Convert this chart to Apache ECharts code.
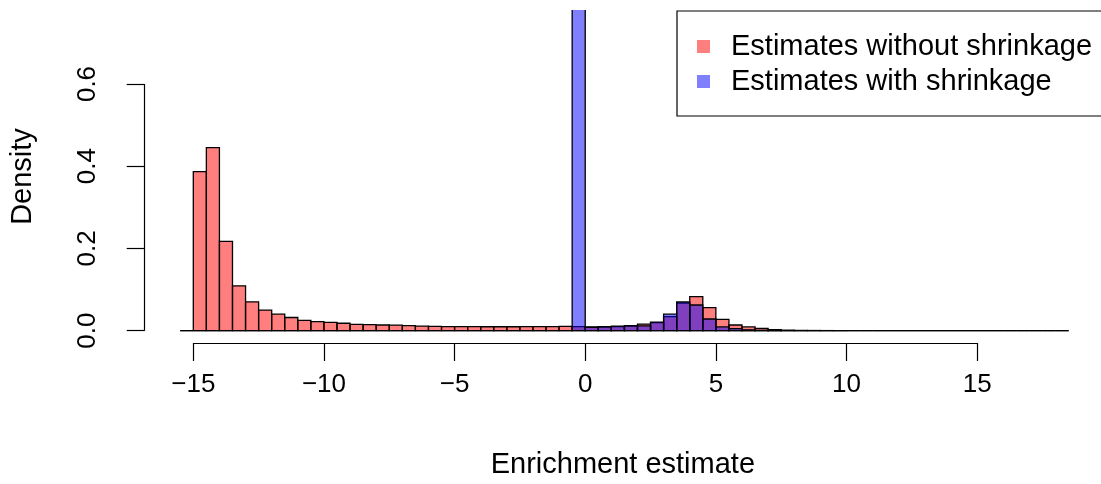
<!DOCTYPE html>
<html><head><meta charset="utf-8">
<script src="https://cdn.jsdelivr.net/npm/echarts@6/dist/echarts.min.js"></script>
<style>html,body{margin:0;padding:0;background:#fff}#c{width:1101px;height:484px}</style>
</head><body><div id="c"></div>
<script>
// Histogram bins: left edges (bin width 0.5)
const binLeft = [-15.5,-15,-14.5,-14,-13.5,-13,-12.5,-12,-11.5,-11,-10.5,-10,-9.5,-9,-8.5,-8,-7.5,-7,-6.5,-6,-5.5,-5,-4.5,-4,-3.5,-3,-2.5,-2,-1.5,-1,-0.5,0,0.5,1,1.5,2,2.5,3,3.5,4,4.5,5,5.5,6,6.5,7,7.5,8,8.5,9,9.5,10,10.5,11,11.5,12,12.5,13,13.5,14,14.5,15,15.5,16,16.5,17,17.5,18];
const binWidth = 0.5;
// Density without shrinkage (red)
const redDensity = [0,0.387,0.445,0.217,0.109,0.070,0.050,0.040,0.032,0.025,0.022,0.020,0.018,0.0155,0.0145,0.0138,0.0135,0.0122,0.0110,0.0106,0.0100,0.0097,0.0096,0.0095,0.0095,0.0095,0.0096,0.0097,0.0098,0.0104,0.0100,0.0090,0.0090,0.0100,0.0120,0.0160,0.0195,0.034,0.067,0.0826,0.056,0.0277,0.0138,0.009,0.0058,0.0025,0.0012,0.0006,0.0004,0.0002,0.0001,0,0,0,0,0,0,0,0,0,0,0,0,0,0,0,0,0];
// Density with shrinkage (blue)
const blueDensity = [0,0,0,0,0,0,0,0,0,0,0,0,0,0,0,0,0,0,0,0,0,0,0,0,0,0,0,0,0,0,1.70,0.008,0.0095,0.011,0.0118,0.0115,0.021,0.040,0.0697,0.0624,0.0284,0.009,0.005,0.002,0.001,0.0005,0,0,0,0,0,0,0,0,0,0,0,0,0,0,0,0,0,0,0,0,0,0];
const xTicks = [-15,-10,-5,0,5,10,15];
const yTicks = [0,0.2,0.4,0.6];
const seriesNames = ['Estimates without shrinkage','Estimates with shrinkage'];
const xTitle = 'Enrichment estimate';
const yTitle = 'Density';

const FONT = "'Liberation Sans', Arial, Helvetica, sans-serif";
const X_MIN = -16.86, X_MAX = 19.74, Y_MIN = -0.03, Y_MAX = 0.78;

function renderBar(params, api) {
  const p0 = api.coord([api.value(0), 0]);
  const p1 = api.coord([api.value(1), api.value(2)]);
  return {
    type: 'rect',
    shape: { x: p0[0], y: p1[1], width: p1[0] - p0[0], height: p0[1] - p1[1] },
    style: api.style()
  };
}
function toData(vals) { return binLeft.map((l, i) => [l, l + binWidth, vals[i]]); }

const chart = echarts.init(document.getElementById('c'), null, { renderer: 'canvas' });
chart.setOption({
  animation: false,
  backgroundColor: '#fff',
  textStyle: { fontFamily: FONT },
  grid: { left: 144.7, top: 10, right: 0, height: 333.5, containLabel: false },
  xAxis: {
    type: 'value', min: X_MIN, max: X_MAX,
    axisLine: { show: false, onZero: false }, splitLine: { show: false },
    axisTick: { show: true, customValues: xTicks, length: 18, lineStyle: { color: '#000', width: 1.2 } },
    axisLabel: { customValues: xTicks, fontSize: 26, color: '#000', margin: 29, fontFamily: FONT,
      formatter: v => (v < 0 ? '\u2212' + Math.abs(v) : String(v)) },
    name: xTitle, nameLocation: 'middle', nameGap: 107,
    nameTextStyle: { fontSize: 29, color: '#000', fontFamily: FONT }
  },
  yAxis: {
    type: 'value', min: Y_MIN, max: Y_MAX,
    axisLine: { show: false, onZero: false }, splitLine: { show: false },
    axisTick: { show: true, customValues: yTicks, length: 18, lineStyle: { color: '#000', width: 1.2 } },
    axisLabel: { customValues: yTicks, fontSize: 26, color: '#000', margin: 44, rotate: 90, fontFamily: FONT,
      formatter: v => v.toFixed(1) },
    name: yTitle, nameLocation: 'middle', nameGap: 107,
    nameTextStyle: { fontSize: 29, color: '#000', fontFamily: FONT }
  },
  legend: {
    left: 677, top: 11, orient: 'vertical',
    padding: [18, 20, 17, 20], itemGap: 0, itemWidth: 13, itemHeight: 13, icon: 'rect',
    borderColor: '#000', borderWidth: 1.2,
    itemStyle: { borderWidth: 0 },
    textStyle: { fontSize: 29, lineHeight: 35, color: '#000', fontFamily: FONT, padding: [0, 0, 0, 16] },
    data: seriesNames
  },
  series: [
    {
      name: seriesNames[0], type: 'custom', clip: true, renderItem: renderBar,
      itemStyle: { color: 'rgba(255,0,0,0.5)', borderColor: '#000', borderWidth: 1.3 },
      encode: { x: [0, 1], y: 2 }, data: toData(redDensity)
    },
    {
      name: seriesNames[1], type: 'custom', clip: true, renderItem: renderBar,
      itemStyle: { color: 'rgba(0,0,255,0.5)', borderColor: '#000', borderWidth: 1.3 },
      encode: { x: [0, 1], y: 2 }, data: toData(blueDensity)
    },
    {
      name: 'axes', type: 'line', data: [], clip: false, silent: true,
      markLine: {
        silent: true, symbol: 'none', label: { show: false },
        lineStyle: { color: '#000', width: 1.2, type: 'solid' },
        data: [
          [{ coord: [xTicks[0], Y_MIN] }, { coord: [xTicks[xTicks.length - 1], Y_MIN] }],
          [{ coord: [X_MIN, yTicks[0]] }, { coord: [X_MIN, yTicks[yTicks.length - 1]] }]
        ]
      }
    }
  ]
});
</script>
</body></html>
